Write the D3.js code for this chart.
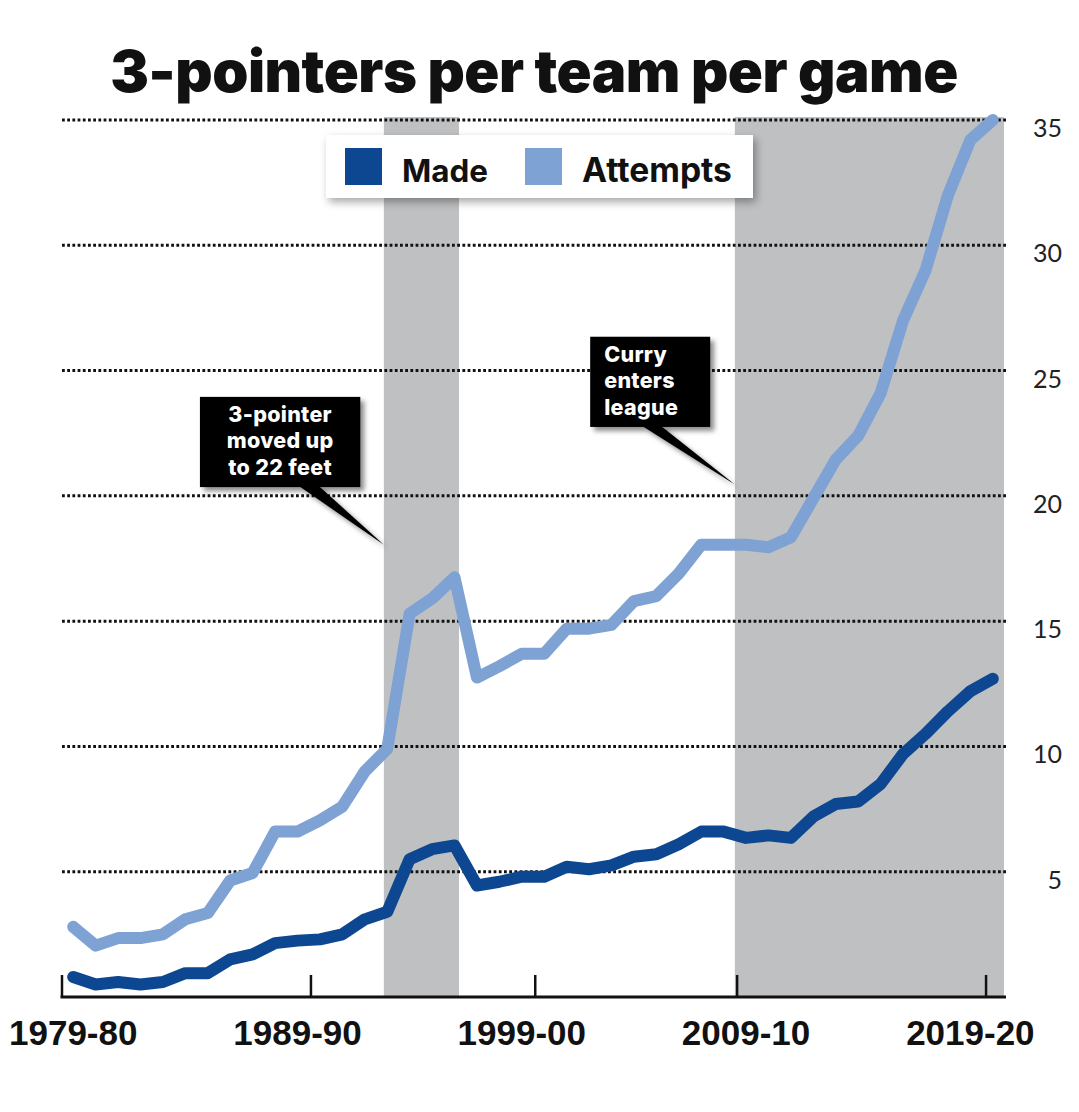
<!DOCTYPE html>
<html>
<head>
<meta charset="utf-8">
<script src="https://cdn.jsdelivr.net/npm/d3@7"></script>
<style>
  html, body { margin: 0; padding: 0; background: #ffffff; }
  svg { display: block; }
</style>
</head>
<body>
<svg id="chart" width="1079" height="1112"></svg>
<script>
// ---------------- DATA ----------------
const seasons = [
  "1979-80","1980-81","1981-82","1982-83","1983-84","1984-85","1985-86","1986-87",
  "1987-88","1988-89","1989-90","1990-91","1991-92","1992-93","1993-94","1994-95",
  "1995-96","1996-97","1997-98","1998-99","1999-00","2000-01","2001-02","2002-03",
  "2003-04","2004-05","2005-06","2006-07","2007-08","2008-09","2009-10","2010-11",
  "2011-12","2012-13","2013-14","2014-15","2015-16","2016-17","2017-18","2018-19",
  "2019-20","2020-21"
];
const attempts = [
  2.8, 2.05, 2.35, 2.35, 2.5, 3.1, 3.35, 4.65,
  4.95, 6.6, 6.6, 7.05, 7.6, 9.0, 9.9, 15.3,
  15.9, 16.75, 12.75, 13.2, 13.7, 13.7, 14.7, 14.7,
  14.85, 15.8, 16.0, 16.9, 18.05, 18.05, 18.05, 17.95,
  18.35, 19.9, 21.45, 22.4, 24.1, 27.0, 29.0, 32.0,
  34.2, 35.0
];
const made = [
  0.8, 0.5, 0.6, 0.5, 0.6, 0.95, 0.95, 1.5,
  1.7, 2.15, 2.25, 2.3, 2.5, 3.1, 3.4, 5.5,
  5.9, 6.05, 4.45, 4.6, 4.8, 4.8, 5.2, 5.1,
  5.25, 5.6, 5.7, 6.1, 6.6, 6.6, 6.35, 6.45,
  6.35, 7.2, 7.7, 7.8, 8.5, 9.7, 10.5, 11.4,
  12.2, 12.7
];
const yTicks = [5, 10, 15, 20, 25, 30, 35];
const xTickLabels = ["1979-80", "1989-90", "1999-00", "2009-10", "2019-20"];
// tick-mark positions, in season-index units, as drawn in the original
const xTickMarks = [-0.5, 10.6, 20.6, 29.6, 40.7];
// shaded eras, in season-index units
const bands = [[13.85, 17.2], [29.5, 41.5]];
const seriesNames = ["Made", "Attempts"];
const seriesColors = ["#0d4791", "#7fa2d4"];
// annotation boxes (season-index / value units)
const notes = [
  { lines: ["3-pointer", "moved up", "to 22 feet"], align: "middle",
    box: [5.65, 12.8, 23.95, 20.35], base: [10.0, 10.9], tip: [13.85, 18.05] },
  { lines: ["Curry", "enters", "league"], align: "start",
    box: [23.05, 28.4, 26.35, 22.75], base: [25.3, 26.15], tip: [29.5, 20.45] }
];

// ---------------- LAYOUT ----------------
const svg = d3.select("#chart");
const mLeft = 62, mRight = 1004, mTop = 120, mBottom = 997;

const x = d3.scaleLinear().domain([-0.5, 41.5]).range([mLeft, mRight]);
const y = d3.scaleLinear().domain([0, 35]).range([mBottom, mTop]);

function fitWidth(sel, target, base) {
  const w = sel.node().getComputedTextLength();
  sel.attr("font-size", base * target / w);
}

const defs = svg.append("defs");
const f1 = defs.append("filter").attr("id", "boxShadow")
  .attr("x", "-20%").attr("y", "-20%").attr("width", "150%").attr("height", "160%");
f1.append("feDropShadow").attr("dx", 4).attr("dy", 4).attr("stdDeviation", 2.5)
  .attr("flood-color", "#000").attr("flood-opacity", 0.45);
const f2 = defs.append("filter").attr("id", "legendShadow")
  .attr("x", "-10%").attr("y", "-30%").attr("width", "125%").attr("height", "180%");
f2.append("feDropShadow").attr("dx", 3).attr("dy", 4).attr("stdDeviation", 4)
  .attr("flood-color", "#000").attr("flood-opacity", 0.35);

// bands
svg.append("g").selectAll("rect").data(bands).join("rect")
  .attr("x", d => x(d[0]))
  .attr("width", d => x(d[1]) - x(d[0]))
  .attr("y", y(35) - 3)
  .attr("height", y(0) - y(35) + 3)
  .attr("fill", "#bfc0c2");

// gridlines
svg.append("g").selectAll("line").data(yTicks).join("line")
  .attr("x1", mLeft).attr("x2", mRight + 2)
  .attr("y1", d => y(d)).attr("y2", d => y(d))
  .attr("stroke", "#111").attr("stroke-width", 3)
  .attr("stroke-dasharray", "2.8 2.4");

// right-hand value labels
svg.append("g").selectAll("text").data(yTicks).join("text")
  .attr("x", 1062).attr("y", d => y(d) + 17)
  .attr("text-anchor", "end")
  .attr("font-family", "Lato, 'Noto Sans', sans-serif")
  .attr("font-size", 25).attr("fill", "#222")
  .text(d => d);

// x axis baseline + ticks
const axis = svg.append("g");
axis.append("line").attr("x1", mLeft - 1.5).attr("x2", mRight + 2)
  .attr("y1", mBottom).attr("y2", mBottom)
  .attr("stroke", "#111").attr("stroke-width", 3);
axis.selectAll("line.tick").data(xTickMarks).join("line").attr("class", "tick")
  .attr("x1", d => x(d)).attr("x2", d => x(d))
  .attr("y1", mBottom).attr("y2", mBottom - 22)
  .attr("stroke", "#111").attr("stroke-width", 2.5);
axis.selectAll("text").data(xTickLabels).join("text")
  .attr("x", d => x(seasons.indexOf(d)))
  .attr("y", 1045)
  .attr("text-anchor", "middle")
  .attr("font-family", "'Liberation Sans', Arial, sans-serif")
  .attr("font-weight", 700).attr("font-size", 35).attr("fill", "#111")
  .text(d => d);

// lines
const line = d3.line().x((d, i) => x(i)).y(d => y(d));
const series = [made, attempts];
svg.append("g").selectAll("path").data([attempts, made]).join("path")
  .attr("d", d => line(d))
  .attr("fill", "none")
  .attr("stroke", d => seriesColors[series.indexOf(d)])
  .attr("stroke-width", 12)
  .attr("stroke-linejoin", "round")
  .attr("stroke-linecap", "round");

// legend
const lg = svg.append("g");
lg.append("rect").attr("x", 326).attr("y", 135).attr("width", 427).attr("height", 63)
  .attr("fill", "#fff").attr("filter", "url(#legendShadow)");
const legendItems = [{ sx: 345, tx: 402, w: 86 }, { sx: 525, tx: 582, w: 150 }];
seriesNames.forEach((n, i) => {
  lg.append("rect").attr("x", legendItems[i].sx).attr("y", 148)
    .attr("width", 37).attr("height", 37).attr("fill", seriesColors[i]);
  const t = lg.append("text").attr("x", legendItems[i].tx).attr("y", 182)
    .attr("font-family", "Inter, Lato, 'Noto Sans', sans-serif")
    .attr("font-weight", 700).attr("font-size", 30).attr("fill", "#111")
    .text(n);
  fitWidth(t, legendItems[i].w, 30);
});

// annotations
const ag = svg.append("g");
notes.forEach(n => {
  const bx0 = x(n.box[0]), bx1 = x(n.box[1]);
  const by0 = y(n.box[2]), by1 = y(n.box[3]);
  const g = ag.append("g").attr("filter", "url(#boxShadow)");
  g.append("path")
    .attr("d", `M${x(n.base[0])},${by1 - 2} L${x(n.tip[0])},${y(n.tip[1])} L${x(n.base[1])},${by1 - 2} Z`)
    .attr("fill", "#000");
  g.append("rect").attr("x", bx0).attr("y", by0)
    .attr("width", bx1 - bx0).attr("height", by1 - by0).attr("fill", "#000");
  const tx = n.align === "middle" ? (bx0 + bx1) / 2 : bx0 + 14;
  n.lines.forEach((l, k) => {
    ag.append("text")
      .attr("x", tx).attr("y", by0 + 25 + k * 26.5)
      .attr("font-family", "Inter, Lato, 'Noto Sans', sans-serif")
      .attr("font-weight", 800).attr("font-size", 21.5).attr("fill", "#fff")
      .attr("letter-spacing", 0.3)
      .attr("text-anchor", n.align)
      .text(l);
  });
});

// title
const title = svg.append("text")
  .attr("x", 534).attr("y", 92)
  .attr("text-anchor", "middle")
  .attr("font-family", "Inter, Lato, 'Open Sans', sans-serif")
  .attr("font-weight", 900).attr("font-size", 58).attr("fill", "#111")
  .attr("letter-spacing", -0.5)
  .text("3-pointers per team per game");
fitWidth(title, 848, 58);
</script>
</body>
</html>
